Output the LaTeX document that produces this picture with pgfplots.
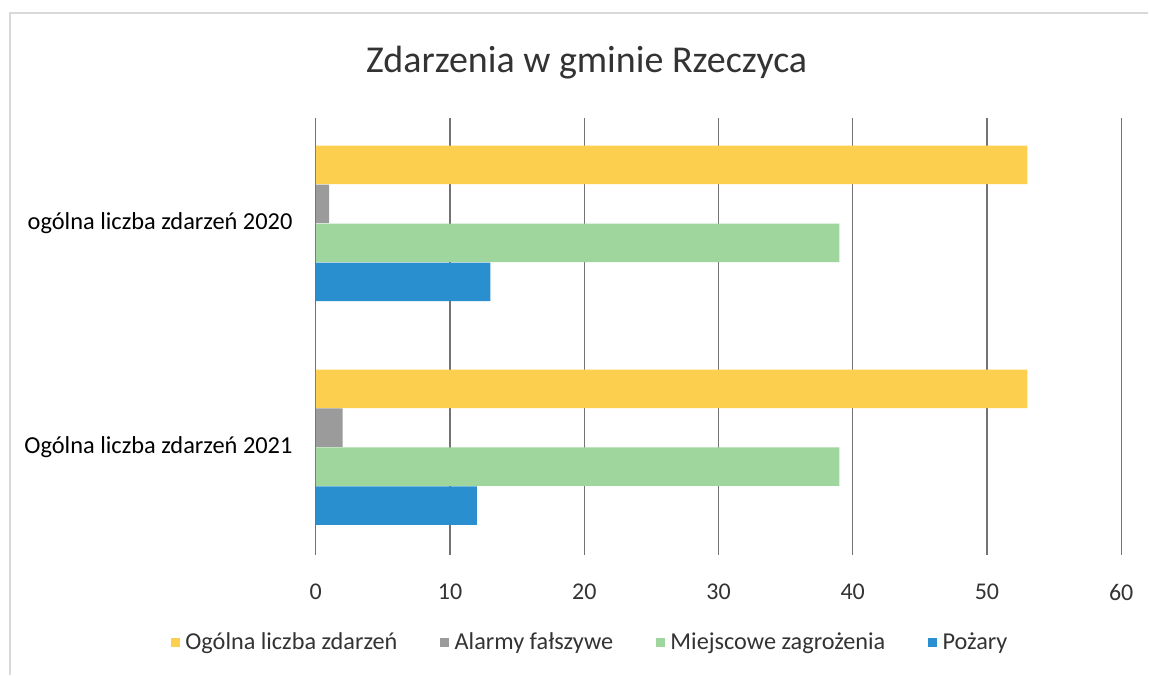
\documentclass[border=0pt]{standalone}
\usepackage{pgfplots}
\pgfplotsset{compat=1.18}
\usepackage{fontspec}
\setmainfont{Carlito}
\definecolor{cyellow}{HTML}{FDCF4F}
\definecolor{cgray}{HTML}{9B9B9B}
\definecolor{cgreen}{HTML}{9ED69E}
\definecolor{cblue}{HTML}{2A8FCE}
\definecolor{ctext}{HTML}{333333}
\begin{document}
\begin{tikzpicture}[x=1pt,y=1pt]
  % canvas 1149x675 px at 0.75pt/px
  \path[fill=white] (0,0) rectangle (861.75,506.25);
  \draw[black!15,line width=1.2pt] (7.5,0) -- (7.5,496.5) -- (861.75,496.5);
  \node[font=\fontsize{28.5}{34}\selectfont,text=ctext] at (440.25,459) {Zdarzenia w gminie Rzeczyca};
  \begin{axis}[
      at={(237pt,90pt)}, anchor=south west,
      scale only axis,
      width=604.5pt, height=327.75pt,
      xbar, bar width=0.172,
      xmin=0, xmax=60, xtick={0,10,...,60},
      ymin=-0.48, ymax=1.471,
      ytick={0,1},
      yticklabels={Ogólna liczba zdarzeń 2021, ogólna liczba zdarzeń 2020},
      axis line style={draw=none},
      tick style={draw=none},
      xmajorgrids, major grid style={black!55, line width=0.9pt},
      /pgf/number format/assume math mode=true,
      xticklabel style={font=\fontsize{18}{21}\selectfont, text=ctext, anchor=north, inner sep=0pt, yshift=-22pt},
      yticklabel style={font=\fontsize{18.3}{21}\selectfont, text=black, anchor=east, inner sep=0pt, xshift=-13pt},
      legend style={at={(0.341,-0.201)}, anchor=center, draw=none, font=\fontsize{18.2}{21}\selectfont,
        text=ctext, inner sep=0pt,
        legend columns=4, /tikz/every even column/.append style={column sep=30pt},
        /tikz/every odd column/.append style={column sep=2pt}},
      legend image code/.code={\fill[#1] (0pt,-3.5pt) rectangle (7pt,3.5pt);},
    ]
    \addplot[draw=none, fill=cyellow, bar shift=0.261] coordinates {(53,0) (53,1)};
    \addlegendentry{Ogólna liczba zdarzeń}
    \addplot[draw=none, fill=cgray, bar shift=0.087] coordinates {(2,0) (1,1)};
    \addlegendentry{Alarmy fałszywe}
    \addplot[draw=none, fill=cgreen, bar shift=-0.087] coordinates {(39,0) (39,1)};
    \addlegendentry{Miejscowe zagrożenia}
    \addplot[draw=none, fill=cblue, bar shift=-0.261] coordinates {(12,0) (13,1)};
    \addlegendentry{Pożary}
  \end{axis}
\end{tikzpicture}
\end{document}
